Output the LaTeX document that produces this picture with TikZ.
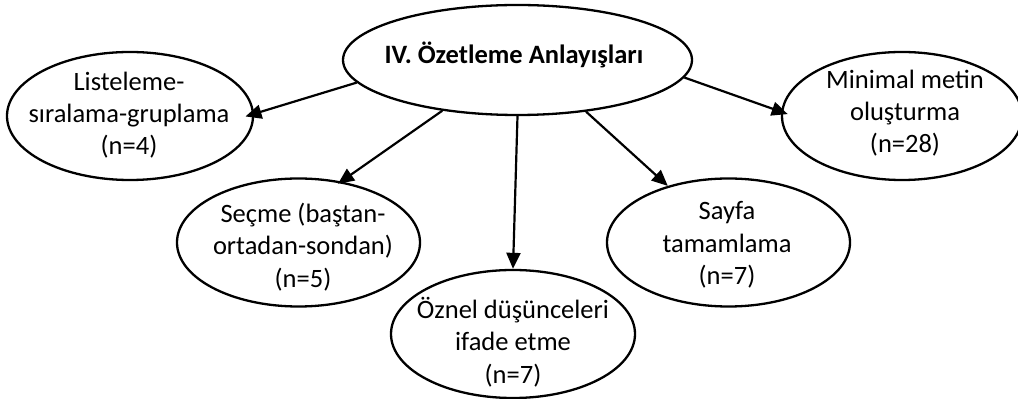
\documentclass[tikz,border=0pt]{standalone}
\usepackage{fontspec}
\setmainfont{Carlito}
\usetikzlibrary{shapes.geometric,arrows.meta}
\begin{document}
\begin{tikzpicture}[x=1pt,y=1pt,
  oval/.style={ellipse,draw,line width=2.3pt,inner sep=0pt,minimum width=#1},
  oval/.default=243pt,
  lbl/.style={align=center,inner sep=0pt,font=\fontsize{26.5}{32.3}\selectfont},
  arr/.style={line width=2.2pt,-{Triangle[length=16pt,width=14pt]}}]
\useasboundingbox (0,0) rectangle (1018,399);
% ellipses
\node[oval=349pt,minimum height=110pt] (main) at (517.5,339) {};
\node[oval=246pt,minimum height=128pt] (list) at (130,283) {};
\node[oval=243pt,minimum height=128pt] (secme) at (298.5,156.5) {};
\node[oval=244pt,minimum height=128pt] (oznel) at (513,65) {};
\node[oval=243pt,minimum height=128pt] (sayfa) at (728.5,156.5) {};
\node[oval=240pt,minimum height=128pt] (minimal) at (902,283) {};
% texts
\node[lbl,anchor=base,font=\fontsize{26.5}{32.3}\selectfont\bfseries] (mainT) at (514,335) {IV. Özetleme Anlayışları};
\node[lbl] (listT) at (129,284) {Listeleme-\\sıralama-gruplama\\(n=4)};
\node[lbl] (secmeT) at (303,152) {Seçme (baştan-\\ortadan-sondan)\\(n=5)};
\node[lbl] (oznelT) at (513,57) {Öznel düşünceleri\\ifade etme\\(n=7)};
\node[lbl] (sayfaT) at (727,154) {Sayfa\\tamamlama\\(n=7)};
\node[lbl] (minimalT) at (905,286) {Minimal metin\\oluşturma\\(n=28)};
% connectors
\draw[arr,shorten >=-9pt] (main.188) -- (list.1);
\draw[arr,shorten >=-4pt] (main.214) -- (secme.55);
\draw[arr] (main.south) -- (oznel.north);
\draw[arr] (main.323) -- (sayfa.137.5);
\draw[arr,shorten >=-7pt] (main.354.7) -- (minimal.178);
\end{tikzpicture}
\end{document}
